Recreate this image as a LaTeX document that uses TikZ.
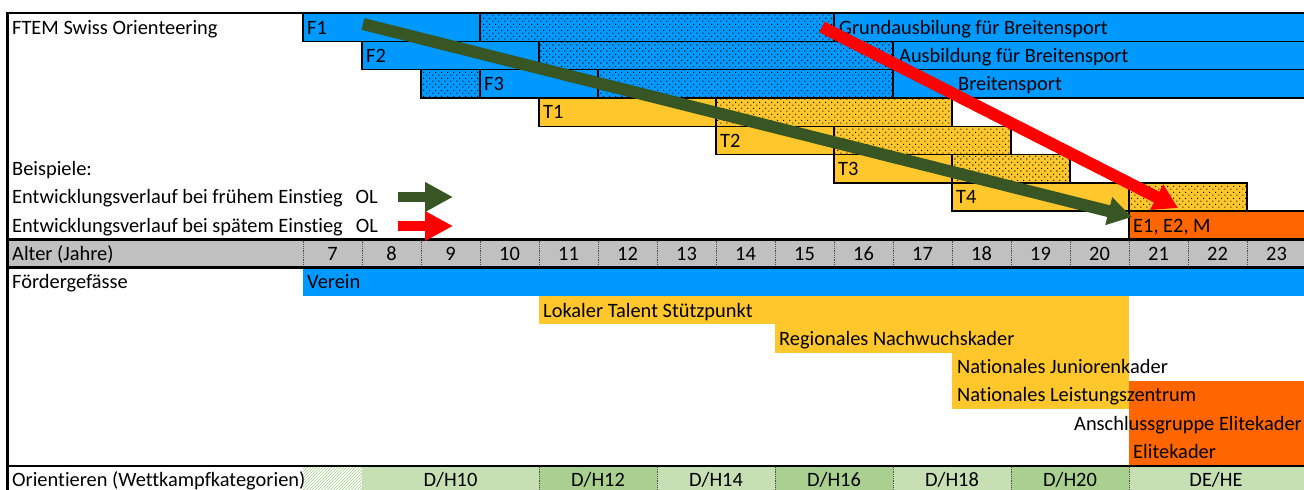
\documentclass[tikz,border=0pt]{standalone}
\usepackage{fontspec}
\setmainfont{Carlito}[Ligatures=CommonOff]
\usetikzlibrary{arrows.meta,patterns}
\pgfdeclarepatternformonly{exdots}{\pgfpointorigin}{\pgfpoint{6pt}{6pt}}{\pgfpoint{6pt}{6pt}}{%
  \pgfpathrectangle{\pgfpoint{0.5pt}{0.5pt}}{\pgfpoint{1.2pt}{1.2pt}}%
  \pgfpathrectangle{\pgfpoint{3.5pt}{3.5pt}}{\pgfpoint{1.2pt}{1.2pt}}%
  \pgfusepath{fill}}
\definecolor{fblue}{HTML}{0099FF}
\definecolor{fyel}{HTML}{FFC72C}
\definecolor{forg}{HTML}{FF6600}
\definecolor{fgray}{HTML}{C0C0C0}
\definecolor{glight}{HTML}{C6E0B4}
\definecolor{gdark}{HTML}{A9D08E}
\definecolor{arrgreen}{HTML}{375623}
\definecolor{arrred}{HTML}{FF0000}
\begin{document}
\begin{tikzpicture}[x=1pt,y=-1pt,font=\fontsize{20.4}{24}\selectfont,
  txt/.style={anchor=base west,inner sep=0pt},
  txtr/.style={anchor=base east,inner sep=0pt},
  num/.style={anchor=base,inner sep=0pt},
  bx/.style={draw=black,line width=1.4pt},
  dz/.style={pattern=exdots,pattern color=black},
  vsep/.style={draw=gray!60!black,line width=0.8pt,densely dotted},
  frame/.style={draw=black,line width=2.6pt},
  bigarrow/.style={line width=12pt,-{Triangle[width=27pt,length=24pt]}},
  legarrow/.style={line width=10pt,-{Triangle[width=28pt,length=28pt]}}]
\useasboundingbox (0,0) rectangle (1304,490);
\clip (0,0) rectangle (1304,490);
\fill[white] (0,0) rectangle (1304,490);

% ---- FTEM rows ----
% F1
\fill[fblue] (303,13) rectangle (1306,41.3);
\fill[dz] (480,13) rectangle (834,41.3);
\draw[bx] (303,13) rectangle (1306,41.3) (480,13) -- (480,41.3) (834,13) -- (834,41.3);
% F2
\fill[fblue] (362,41.3) rectangle (1306,69.6);
\fill[dz] (539,41.3) rectangle (893,69.6);
\draw[bx] (362,41.3) rectangle (1306,69.6) (539,41.3) -- (539,69.6) (893,41.3) -- (893,69.6);
% F3
\fill[fblue] (421,69.6) rectangle (1306,97.9);
\fill[dz] (421,69.6) rectangle (480,97.9);
\fill[dz] (598,69.6) rectangle (893,97.9);
\draw[bx] (421,69.6) rectangle (1306,97.9) (480,69.6) -- (480,97.9) (598,69.6) -- (598,97.9) (893,69.6) -- (893,97.9);
% T1
\fill[fyel] (539,97.9) rectangle (952,126.2);
\fill[dz] (716,97.9) rectangle (952,126.2);
\draw[bx] (539,97.9) rectangle (952,126.2) (716,97.9) -- (716,126.2);
% T2
\fill[fyel] (716,126.2) rectangle (1011,154.5);
\fill[dz] (834,126.2) rectangle (1011,154.5);
\draw[bx] (716,126.2) rectangle (1011,154.5) (834,126.2) -- (834,154.5);
% T3
\fill[fyel] (834,154.5) rectangle (1070,182.8);
\fill[dz] (952,154.5) rectangle (1070,182.8);
\draw[bx] (834,154.5) rectangle (1070,182.8) (952,154.5) -- (952,182.8);
% T4
\fill[fyel] (952,182.8) rectangle (1247,211.1);
\fill[dz] (1129,182.8) rectangle (1247,211.1);
\draw[bx] (952,182.8) rectangle (1247,211.1) (1129,182.8) -- (1129,211.1);
% E
\fill[forg] (1129,211.1) rectangle (1306,239.4);
\draw[bx] (1129,211.1) rectangle (1306,239.4);

\node[txt] (title) at (12,34) {FTEM Swiss Orienteering};
\node[txt] (f1) at (307,34) {F1};
\node[txt] (f1b) at (839,34) {Grundausbilung für Breitensport};
\node[txt] (f2) at (366,62.3) {F2};
\node[txt] (f2b) at (899,62.3) {Ausbildung für Breitensport};
\node[txt] (f3) at (484,90.6) {F3};
\node[txt] (f3b) at (958,90.6) {Breitensport};
\node[txt] (t1) at (543,118.9) {T1};
\node[txt] (t2) at (720,147.2) {T2};
\node[txt] (t3) at (838,175.5) {T3};
\node[txt] (t4) at (956,203.8) {T4};
\node[txt] (e) at (1133,232.1) {E1, E2, M};
\node[txt] (bsp) at (12,175.5) {Beispiele:};
\node[txt] (early) at (12,203.8) {Entwicklungsverlauf bei frühem Einstieg\hspace{13pt}OL};
\node[txt] (late) at (12,232.1) {Entwicklungsverlauf bei spätem Einstieg\hspace{13pt}OL};

% ---- age row ----
\fill[fgray] (7,239.4) rectangle (1306,267.7);
\node[txt] (alter) at (12,260.4) {Alter (Jahre)};
\foreach \a [evaluate=\a as \xl using {303+59*(\a-7)}] in {7,...,23} {
  \draw[vsep] (\xl,240.6) -- (\xl,266.5);
  \node[num] (age\a) at ({\xl+29.5},260.4) {\a};
}

% ---- Foerdergefaesse ----
\node[txt] (foerder) at (12,288.7) {Fördergefässe};
\fill[fblue] (303,267.7) rectangle (1306,296);
\node[txt] (verein) at (307,288.7) {Verein};
\fill[fyel] (539,296) rectangle (1129,324.3);
\fill[fyel] (775,324.3) rectangle (1129,352.6);
\fill[fyel] (952,352.6) rectangle (1129,409.2);
\fill[forg] (1129,380.9) rectangle (1306,465.8);
\node[txt] (lokal) at (543,317) {Lokaler Talent Stützpunkt};
\node[txt] (regio) at (779,345.3) {Regionales Nachwuchskader};
\node[txt] (njk) at (957,373.6) {Nationales Juniorenkader};
\node[txt] (nlz) at (957,401.9) {Nationales Leistungszentrum};
\node[txt] (elite) at (1133,458.5) {Elitekader};
\node[txtr] (ansch) at (1302,430.2) {Anschlussgruppe Elitekader};

% ---- Orientieren row ----
\fill[pattern=north east lines,pattern color=gdark] (303,465.8) rectangle (362,494);
\fill[glight] (362,465.8) rectangle (539,494);
\fill[gdark] (539,465.8) rectangle (657,494);
\fill[glight] (657,465.8) rectangle (775,494);
\fill[gdark] (775,465.8) rectangle (893,494);
\fill[glight] (893,465.8) rectangle (1011,494);
\fill[gdark] (1011,465.8) rectangle (1129,494);
\fill[glight] (1129,465.8) rectangle (1306,494);
\foreach \xs in {539,657,775,893,1011,1129} \draw[vsep] (\xs,467) -- (\xs,494);
\node[txt] (orient) at (12,486.8) {Orientieren (Wettkampfkategorien)};
\node[num] (dh10) at (450.5,486.8) {D/H10};
\node[num] (dh12) at (598,486.8) {D/H12};
\node[num] (dh14) at (716,486.8) {D/H14};
\node[num] (dh16) at (834,486.8) {D/H16};
\node[num] (dh18) at (952,486.8) {D/H18};
\node[num] (dh20) at (1070,486.8) {D/H20};
\node[num] (dehe) at (1216,486.8) {DE/HE};

% ---- frame lines ----
\draw[line width=2pt] (7,13) -- (1306,13);
\draw[frame] (7.5,12) -- (7.5,494);
\draw[frame] (7,239.4) -- (1306,239.4);
\draw[frame] (7,267.7) -- (1306,267.7);
\draw[frame] (7,465.8) -- (1306,465.8);

% ---- arrows ----
\coordinate (rS) at (822,27);
\coordinate (rE) at (1178,208);
\coordinate (gS) at (363,24);
\coordinate (gE) at (1132,217);
\draw[bigarrow,arrred] (rS) -- (rE);
\draw[bigarrow,arrgreen] (gS) -- (gE);
\coordinate (lgS) at (398,197);
\coordinate (lgE) at (453,197);
\coordinate (lrS) at (398,226);
\coordinate (lrE) at (453,226);
\draw[legarrow,arrgreen] (lgS) -- (lgE);
\draw[legarrow,arrred] (lrS) -- (lrE);
\end{tikzpicture}
\end{document}
